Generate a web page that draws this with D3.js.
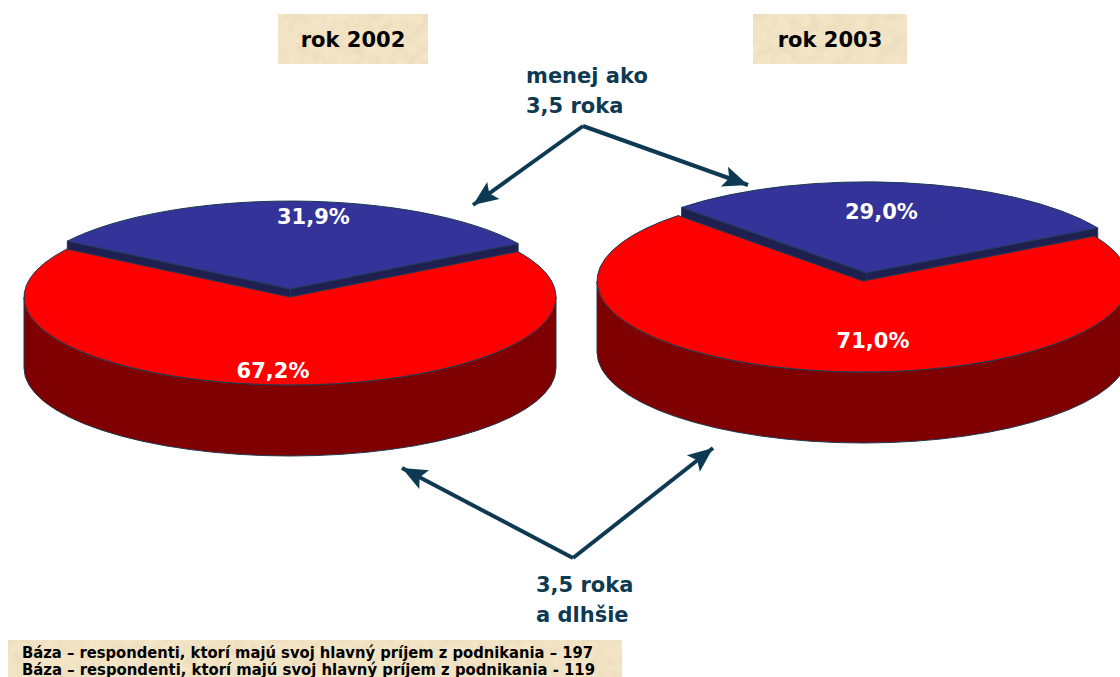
<!DOCTYPE html>
<html><head><meta charset="utf-8">
<script src="https://cdn.jsdelivr.net/npm/d3@7"></script>
<style>
html,body{margin:0;padding:0;background:#fff;}
svg{display:block;}
</style></head>
<body>
<svg id="chart" width="1120" height="677"></svg>
<script>
// ---- data ----
const years = ["rok 2002", "rok 2003"];
const shortShare = [31.9, 29.0];   // menej ako 3,5 roka
const longShare = [67.2, 71.0];    // 3,5 roka a dlhšie
const shortLabel = ["menej ako", "3,5 roka"];
const longLabel = ["3,5 roka", "a dlhšie"];
const baseNotes = [
  "Báza – respondenti, ktorí majú svoj hlavný príjem z podnikania – 197",
  "Báza – respondenti, ktorí majú svoj hlavný príjem z podnikania - 119"
];

// ---- layout ----
const layout = [
  {cx: 290, cy: 297, rx: 266, ry: 88, h: 71, start: -57, box: [278, 14, 150, 50],
   lab: [[23, -73], [-17, 73]]},
  {cx: 863, cy: 281, rx: 266, ry: 91, h: 71, start: -44, box: [753, 14, 154, 50],
   lab: [[15, -61], [10, 59]]}
];
const colBlue = "#333399", colBlueSide = "#1f1f50", colRed = "#ff0000", colRedSide = "#7f0000";
const edge = "#1d3b52", annCol = "#0d3a52";
const fmt = v => d3.format(".1f")(v).replace(".", ",") + "%";
const rad = d => d * Math.PI / 180;

const svg = d3.select("#chart");
const defs = svg.append("defs");

// parchment texture
const f = defs.append("filter").attr("id", "parch").attr("x", 0).attr("y", 0).attr("width", 1).attr("height", 1);
f.append("feTurbulence").attr("type", "fractalNoise").attr("baseFrequency", "0.09").attr("numOctaves", 3).attr("seed", 5).attr("result", "n");
f.append("feColorMatrix").attr("in", "n").attr("type", "matrix")
  .attr("values", "0 0 0 0 0.82  0 0 0 0 0.70  0 0 0 0 0.50  1.6 0 0 0 -0.55").attr("result", "spots");
f.append("feComposite").attr("in", "spots").attr("in2", "SourceGraphic").attr("operator", "atop");

// arrow marker
defs.append("marker").attr("id", "ah").attr("markerUnits", "userSpaceOnUse")
  .attr("viewBox", "-26 -12 28 24").attr("refX", 0).attr("refY", 0)
  .attr("markerWidth", 28).attr("markerHeight", 24).attr("orient", "auto")
  .append("path").attr("d", "M0,0 L-25,-10.5 L-20,0 L-25,10.5 Z").attr("fill", annCol);

const pieGen = d3.pie().sort(null).value(d => d);

layout.forEach((L, i) => {
  const arcs = pieGen.startAngle(rad(L.start)).endAngle(rad(L.start) + 2 * Math.PI)([shortShare[i], longShare[i]]);
  const blue = arcs[0], red = arcs[1];
  const k = L.ry / L.rx;
  const pt = (a, cx, cy) => [cx + L.rx * Math.sin(a), cy - L.ry * Math.cos(a)];
  const g = svg.append("g");

  // explode offset of the small slice
  const mid = (blue.startAngle + blue.endAngle) / 2;
  const d = 24;
  const bx = L.cx + d * Math.sin(mid), by = L.cy - d * Math.cos(mid) * k;

  // blue wedge cut faces
  [blue.startAngle, blue.endAngle].forEach(a => {
    const p = pt(a, bx, by);
    g.append("path")
      .attr("d", `M${bx},${by} L${p[0]},${p[1]} L${p[0]},${p[1] + L.h} L${bx},${by + L.h} Z`)
      .attr("fill", colBlueSide).attr("stroke", edge).attr("stroke-width", 1);
  });
  // blue top face
  g.append("g").attr("transform", `translate(${bx},${by}) scale(1,${k})`)
    .append("path").attr("d", d3.arc().innerRadius(0).outerRadius(L.rx)(blue))
    .attr("fill", colBlue).attr("stroke", edge).attr("stroke-width", 1).attr("vector-effect", "non-scaling-stroke");

  // red wedge front side
  const l = [L.cx - L.rx, L.cy], r = [L.cx + L.rx, L.cy];
  g.append("path")
    .attr("d", `M${l[0]},${l[1]} A${L.rx},${L.ry} 0 0 0 ${r[0]},${r[1]} L${r[0]},${r[1] + L.h} A${L.rx},${L.ry} 0 0 1 ${l[0]},${l[1] + L.h} Z`)
    .attr("fill", colRedSide).attr("stroke", edge).attr("stroke-width", 1);
  // red top face
  g.append("g").attr("transform", `translate(${L.cx},${L.cy}) scale(1,${k})`)
    .append("path").attr("d", d3.arc().innerRadius(0).outerRadius(L.rx)(red))
    .attr("fill", colRed).attr("stroke", edge).attr("stroke-width", 1).attr("vector-effect", "non-scaling-stroke");

  // value labels
  [[blue, bx, by, 0], [red, L.cx, L.cy, 1]].forEach(([s, x0, y0, j]) => {
    g.append("text").attr("x", x0 + L.lab[j][0]).attr("y", y0 + L.lab[j][1]).attr("dy", "0.36em")
      .attr("text-anchor", "middle").attr("fill", "#fff")
      .attr("font-family", "DejaVu Sans, Verdana, sans-serif").attr("font-weight", "bold").attr("font-size", 21)
      .text(fmt(s.data));
  });

  // year title box
  svg.append("rect").attr("x", L.box[0]).attr("y", L.box[1]).attr("width", L.box[2]).attr("height", L.box[3])
    .attr("fill", "#f3e5c6").attr("filter", "url(#parch)");
  svg.append("text").attr("x", L.box[0] + L.box[2] / 2).attr("y", L.box[1] + L.box[3] / 2).attr("dy", "0.36em")
    .attr("text-anchor", "middle").attr("fill", "#000")
    .attr("font-family", "DejaVu Sans, Verdana, sans-serif").attr("font-weight", "bold").attr("font-size", 21)
    .text(years[i]);
});

// annotations
const ann = svg.append("g").attr("fill", annCol).attr("font-family", "DejaVu Sans, Verdana, sans-serif")
  .attr("font-weight", "bold").attr("font-size", 21);
shortLabel.forEach((t, j) => ann.append("text").attr("x", 526).attr("y", 83 + j * 30).text(t));
longLabel.forEach((t, j) => ann.append("text").attr("x", 536).attr("y", 592 + j * 30).text(t));

const arrows = [[[583, 126], [473, 205]], [[583, 126], [748, 185]], [[573, 558], [402, 468]], [[573, 558], [713, 448]]];
arrows.forEach(([a, b]) => {
  svg.append("path").attr("d", `M${a[0]},${a[1]} L${b[0]},${b[1]}`)
    .attr("stroke", annCol).attr("stroke-width", 4).attr("fill", "none").attr("marker-end", "url(#ah)");
});

// base notes
svg.append("rect").attr("x", 8).attr("y", 640).attr("width", 614).attr("height", 40)
  .attr("fill", "#f3e5c6").attr("filter", "url(#parch)");
baseNotes.forEach((t, j) => {
  svg.append("text").attr("x", 22).attr("y", 657.5 + j * 17)
    .attr("font-family", "DejaVu Sans, Verdana, sans-serif").attr("font-weight", "bold").attr("font-size", 16)
    .attr("fill", "#000").attr("textLength", j === 0 ? 571 : 573).attr("lengthAdjust", "spacingAndGlyphs")
    .text(t);
});
</script>
</body></html>
